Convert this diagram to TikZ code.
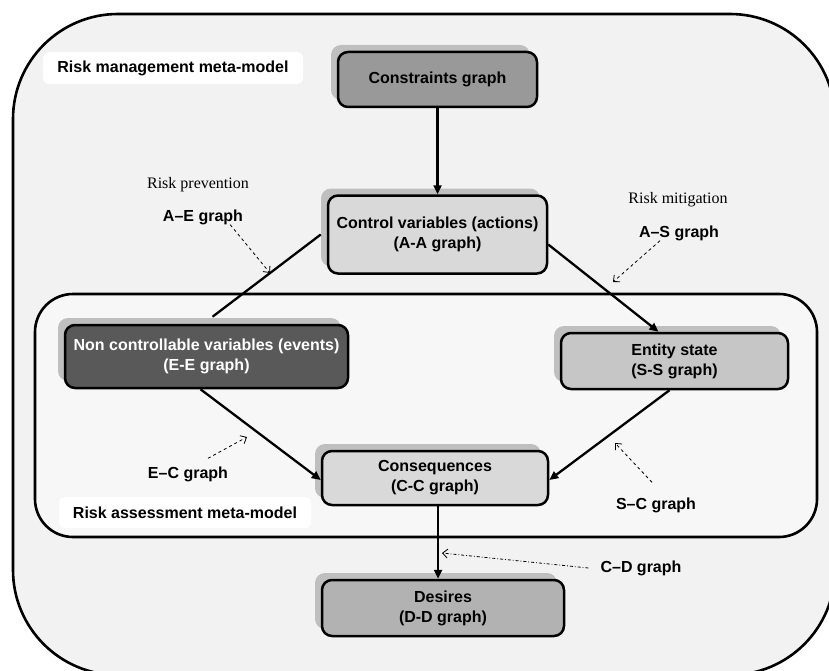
\documentclass[tikz,border=0pt]{standalone}
\usepackage{fontspec}
\setmainfont{Liberation Serif}
\setsansfont{Liberation Sans}
\usepackage{tikz}
\usetikzlibrary{shapes,arrows.meta,positioning,calc,shadows}
\definecolor{outerfill}{RGB}{242,242,242}
\definecolor{innerfill}{RGB}{247,247,247}
\definecolor{shadowgray}{RGB}{191,191,191}
\definecolor{constrgray}{RGB}{153,153,153}
\definecolor{actiongray}{RGB}{217,217,217}
\definecolor{eventgray}{RGB}{89,89,89}
\definecolor{stategray}{RGB}{198,198,198}
\definecolor{desiregray}{RGB}{178,178,178}

\begin{document}
\begin{tikzpicture}[
    x=1pt, y=-1pt,
    frame/.style={draw, line width=2.6pt},
    box/.style={rectangle, draw, line width=2.5pt, rounded corners=10pt,
                align=center, inner sep=3pt,
                font=\fontsize{16}{20}\selectfont\sffamily\bfseries,
                general shadow={fill=shadowgray, shadow xshift=-7pt, shadow yshift=7pt}},
    tag/.style={rectangle, fill=white, rounded corners=6pt, inner sep=0pt,
                font=\fontsize{16}{20}\selectfont\sffamily\bfseries},
    lbl/.style={inner sep=0pt, font=\fontsize{16}{20}\selectfont\sffamily\bfseries},
    note/.style={inner sep=0pt, font=\fontsize{16}{19}\selectfont\rmfamily},
    link/.style={line width=2.3pt},
    conn/.style={link, -{Triangle[length=9pt,width=8pt]}},
    hint/.style={dashed, line width=0.8pt, -{Straight Barb[length=5pt,width=9pt]}},
]

% Frames
\useasboundingbox (0,0) rectangle (829,671);
\clip (0,0) rectangle (829,671);
\draw[frame, overlay, fill=outerfill, rounded corners=105pt] (13,14) rectangle (835,675);
\draw[frame, fill=innerfill, rounded corners=38pt] (35,294) rectangle (817,537);

% Meta-model tags
\node[tag, minimum width=260pt, minimum height=32pt] (mgmt) at (173,68)
    {Risk management meta-model};
\node[tag, minimum width=252pt, minimum height=31pt] (assess) at (185,512.5)
    {Risk assessment meta-model};

% Graphs
\node[box, fill=constrgray, minimum width=199pt, minimum height=55pt] (constr)
    at (437.5,79.5) {Constraints graph};
\node[box, fill=actiongray, minimum width=219pt, minimum height=78pt,
      below=86pt of constr] (ctrl)
    {Control variables (actions)\\(A-A graph)};
\node[box, fill=eventgray, text=white, minimum width=283pt, minimum height=63pt] (events)
    at (206.5,356.5) {Non controllable variables (events)\\(E-E graph)};
\node[box, fill=stategray, minimum width=227pt, minimum height=56pt] (state)
    at (674.5,361) {Entity state\\(S-S graph)};
\node[box, fill=actiongray, minimum width=226pt, minimum height=54pt] (conseq)
    at (435,478) {Consequences\\(C-C graph)};
\node[box, fill=desiregray, minimum width=242pt, minimum height=56pt] (desires)
    at (443,608) {Desires\\(D-D graph)};

% Annotations
\node[note] (prevent) at (198,185) {Risk prevention};
\node[note] (mitig) at (678,200) {Risk mitigation};
\node[lbl] (aelbl) at (203,217) {A–E graph};
\node[lbl] (aslbl) at (679,233) {A–S graph};
\node[lbl] (eclbl) at (188,474) {E–C graph};
\node[lbl] (sclbl) at (656,505) {S–C graph};
\node[lbl] (cdlbl) at (641,568) {C–D graph};

% Arrows
\draw[conn] (constr) -- (ctrl);
\draw[link] ([xshift=-6pt]ctrl.west) -- ([xshift=6pt,yshift=7pt]events.north);
\draw[conn] ([yshift=-10pt]ctrl.east) -- ([xshift=-16pt]state.north);
\draw[conn] ([xshift=-6pt]events.south) -- ([yshift=-2pt]conseq.west);
\draw[conn] ([xshift=-5pt]state.south) -- ([yshift=-2pt]conseq.east);
\draw[conn] ([xshift=3pt]conseq.south) -- ([xshift=3pt]conseq.south |- desires.north);

% Hints
\coordinate (aetip) at (270,273);
\draw[hint] ([xshift=-13pt]aelbl.south east) -- (aetip);
\coordinate (astip) at (613,282);
\draw[hint] ([xshift=-19pt]aslbl.south) -- (astip);
\coordinate (ectip) at (247,437);
\draw[hint] ([xshift=20pt,yshift=8pt]eclbl.north) -- (ectip);
\coordinate (sctip) at (615,443);
\draw[hint] ([xshift=-4pt,yshift=15pt]sclbl.north) -- (sctip);
\coordinate (cdtip) at (442,553);
\draw[hint, dash dot] ([xshift=-12pt]cdlbl.west) -- (cdtip);

\end{tikzpicture}
\end{document}
